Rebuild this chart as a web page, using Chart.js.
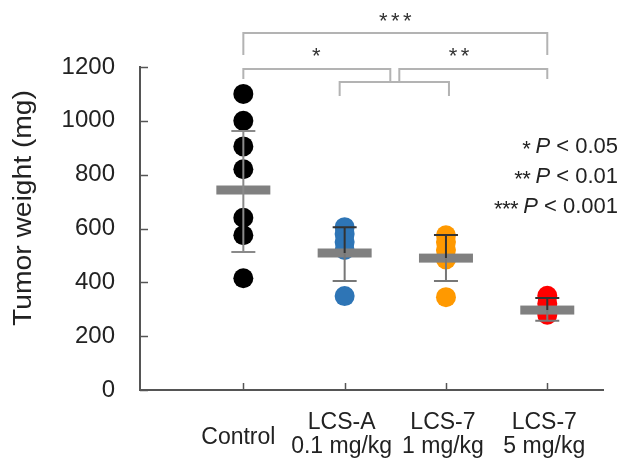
<!DOCTYPE html>
<html><head><meta charset="utf-8">
<script src="https://cdn.jsdelivr.net/npm/chart.js@4"></script>
<style>html,body{margin:0;padding:0;background:#fff}#wrap{width:634px;height:461px}</style>
</head><body><div id="wrap"><canvas id="c" width="634" height="461"></canvas></div>
<script>
const categories = [['Control'], ['LCS-A', '0.1 mg/kg'], ['LCS-7', '1 mg/kg'], ['LCS-7', '5 mg/kg']];
const controlValues = [1100, 1000, 905, 820, 640, 575, 415];
const lcsAValues = [605, 580, 550, 520, 349];
const lcs7LowValues = [575, 550, 520, 485, 345];
const lcs7HighValues = [350, 320, 300, 280];
const groupMeans = [743, 509, 490, 297];
const groupErrUp = [219, 96, 86, 45];
const groupErrDown = [230, 104, 85, 40];
const yTicks = [0, 200, 400, 600, 800, 1000, 1200];
const yTitle = 'Tumor weight (mg)';
const legendLines = [['*', '0.05'], ['**', '0.01'], ['***', '0.001']];

const FONT = '"Liberation Sans", Arial, sans-serif';
const groups = [controlValues, lcsAValues, lcs7LowValues, lcs7HighValues];
const colors = ['#000000', '#2E75B6', '#FF9900', '#FF0000'];

const datasets = groups.map((vals, i) => ({
  data: vals.map(v => ({x: i, y: v})),
  backgroundColor: colors[i],
  borderWidth: 0,
  pointRadius: 10,
  pointHoverRadius: 10
}));

function stars(ctx, n, cx, cy, size, gap) {
  ctx.save();
  ctx.font = size + 'px ' + FONT;
  ctx.textAlign = 'center'; ctx.textBaseline = 'alphabetic';
  const x0 = cx - (n - 1) * gap / 2;
  for (let k = 0; k < n; k++) ctx.fillText('*', x0 + k * gap, cy + 0.4 * size);
  ctx.restore();
}

const overlay = {
  id: 'overlay',
  afterDatasetsDraw(chart) {
    const ctx = chart.ctx, xs = chart.scales.x, ys = chart.scales.y;
    ctx.save();
    groupMeans.forEach((m, i) => {
      const cx = xs.getPixelForValue(i);
      const ym = ys.getPixelForValue(m);
      ctx.fillStyle = '#808080';
      ctx.fillRect(cx - 27, ym - 4.5, 54, 9);
      const yt = ys.getPixelForValue(m + groupErrUp[i]);
      const yb = ys.getPixelForValue(m - groupErrDown[i]);
      ctx.lineWidth = 2;
      ctx.strokeStyle = i === 0 ? '#8a8a8a' : '#333333';
      ctx.beginPath(); ctx.moveTo(cx, ym); ctx.lineTo(cx, yt);
      ctx.moveTo(cx - 12, yt); ctx.lineTo(cx + 12, yt); ctx.stroke();
      ctx.strokeStyle = i === 0 ? '#8a8a8a' : '#777777';
      ctx.beginPath(); ctx.moveTo(cx, ym); ctx.lineTo(cx, yb);
      ctx.moveTo(cx - 12, yb); ctx.lineTo(cx + 12, yb); ctx.stroke();
    });
    ctx.restore();
  },
  afterDraw(chart) {
    const ctx = chart.ctx, xs = chart.scales.x, ys = chart.scales.y;
    const area = chart.chartArea;
    ctx.save();
    // inward ticks
    ctx.strokeStyle = '#555'; ctx.lineWidth = 1.5;
    yTicks.forEach(v => {
      const y = Math.round(ys.getPixelForValue(v)) + 0.5;
      ctx.beginPath(); ctx.moveTo(area.left, y); ctx.lineTo(area.left + 8, y); ctx.stroke();
    });
    categories.forEach((c, i) => {
      const x = Math.round(xs.getPixelForValue(i)) + 0.5;
      ctx.beginPath(); ctx.moveTo(x, area.bottom); ctx.lineTo(x, area.bottom - 7); ctx.stroke();
    });
    // x labels
    ctx.fillStyle = '#222'; ctx.font = '23px ' + FONT;
    ctx.textAlign = 'center'; ctx.textBaseline = 'middle';
    categories.forEach((c, i) => {
      const x = xs.getPixelForValue(i) - 3;
      if (c.length === 1) ctx.fillText(c[0], x - 2, area.bottom + 48);
      else { ctx.fillText(c[0], x, area.bottom + 33); ctx.fillText(c[1], x, area.bottom + 57); }
    });
    // y title
    ctx.save();
    ctx.translate(24, 208); ctx.rotate(-Math.PI / 2); ctx.scale(1.13, 1);
    ctx.font = '25px ' + FONT; ctx.fillStyle = '#222';
    ctx.fillText(yTitle, 0, 0);
    ctx.restore();
    // brackets
    const p = i => xs.getPixelForValue(i);
    ctx.strokeStyle = '#b3b3b3'; ctx.lineWidth = 2;
    const mid = p(1.5);
    const line = pts => { ctx.beginPath(); ctx.moveTo(pts[0][0], pts[0][1]); pts.slice(1).forEach(q => ctx.lineTo(q[0], q[1])); ctx.stroke(); };
    line([[p(0), 55], [p(0), 33], [p(3), 33], [p(3), 55]]);
    line([[p(0), 79], [p(0), 69], [mid - 5, 69], [mid - 5, 82]]);
    line([[mid + 4, 82], [mid + 4, 69], [p(3), 69], [p(3), 79]]);
    line([[p(1) - 5, 96], [p(1) - 5, 82], [p(2) + 3, 82], [p(2) + 3, 96]]);
    ctx.fillStyle = '#333';
    stars(ctx, 3, (p(0) + p(3)) / 2, 19, 22, 12);
    stars(ctx, 1, (p(0) + mid) / 2 - 3, 54, 22, 12);
    stars(ctx, 2, mid + (p(3) - mid) * 0.42, 54, 22, 12);
    // significance legend
    ctx.textAlign = 'left'; ctx.textBaseline = 'middle'; ctx.fillStyle = '#222';
    legendLines.forEach((l, k) => {
      const y = 147 + k * 30;
      const segs = [['P', 'italic 22px ' + FONT], [' < ' + l[1], '22px ' + FONT]];
      let w = 0;
      segs.forEach(s => { ctx.font = s[1]; w += ctx.measureText(s[0]).width; });
      let x = 618 - w;
      const px = x;
      segs.forEach(s => { ctx.font = s[1]; ctx.fillText(s[0], x, y); x += ctx.measureText(s[0]).width; });
      const n = l[0].length;
      stars(ctx, n, px - 9 - (n - 1) * 4, y, 22, 8);
    });
    ctx.restore();
  }
};

new Chart(document.getElementById('c'), {
  type: 'scatter',
  data: {datasets},
  options: {
    responsive: false,
    animation: false,
    events: [],
    layout: {padding: {top: 67, right: 31, bottom: 0, left: 0}},
    plugins: {legend: {display: false}, tooltip: {enabled: false}},
    scales: {
      x: {
        type: 'linear', min: -1.02, max: 3.55,
        ticks: {display: false},
        grid: {display: false},
        border: {display: true, color: '#555', width: 2},
        afterFit: s => { s.height = 71; }
      },
      y: {
        type: 'linear', min: 0, max: 1200,
        afterBuildTicks: s => { s.ticks = yTicks.map(v => ({value: v})); },
        ticks: {font: {family: FONT, size: 24}, color: '#222', padding: 17, callback: v => String(v)},
        grid: {display: false},
        border: {display: true, color: '#555', width: 2},
        afterFit: s => { s.width = 140; }
      }
    }
  },
  plugins: [overlay]
});
</script></body></html>
